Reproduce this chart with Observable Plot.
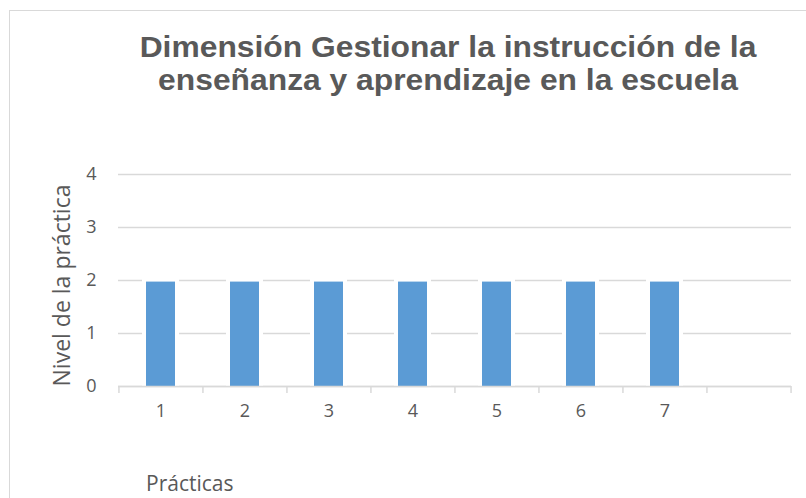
<!DOCTYPE html>
<html>
<head>
<meta charset="utf-8">
<script src="https://cdn.jsdelivr.net/npm/d3@7"></script>
<script src="https://cdn.jsdelivr.net/npm/@observablehq/plot@0.6"></script>
<style>
  html, body { margin: 0; padding: 0; background: #fff; }
  #wrap { position: relative; width: 806px; height: 498px; overflow: hidden; }
  #border { position: absolute; left: 9px; top: 10px; width: 900px; height: 600px; border: 1.5px solid #d9d9d9; box-sizing: border-box; }
  #title { position: absolute; left: 0; top: 30px; width: 896px; text-align: center; font-family: "Liberation Sans", Arial, sans-serif; font-weight: bold; font-size: 30px; line-height: 33px; color: #595959; transform: scaleX(1.06); transform-origin: 448px 0; }
  #xtitle { position: absolute; left: 146px; top: 469px; font-family: "Open Sans", sans-serif; font-size: 21px; color: #595959; }
  #plot { position: absolute; left: 0; top: 0; }
</style>
</head>
<body>
<div id="wrap">
  <div id="border"></div>
  <div id="title">Dimensión Gestionar la instrucción de la<br>enseñanza y aprendizaje en la escuela</div>
  <div id="plot"></div>
  <div id="xtitle">Prácticas</div>
</div>
<script>
const categories = ["1", "2", "3", "4", "5", "6", "7"];
const values = [1.97, 1.97, 1.97, 1.97, 1.97, 1.97, 1.97];
const yTicks = [0, 1, 2, 3, 4];
const yLabel = "Nivel de la práctica";

const data = categories.map((c, i) => ({cat: c, v: values[i]}));
const domainX = [...categories, ""];

const W = 806, H = 498, ML = 118, MR = 15, MT = 174, MB = 112;
const step = (W - ML - MR) / domainX.length;
const grey = "#d9d9d9";
const font = "'Open Sans', sans-serif";

const chart = Plot.plot({
  width: W,
  height: H,
  marginLeft: ML,
  marginRight: MR,
  marginTop: MT,
  marginBottom: MB,
  style: {fontFamily: font, fontSize: "18px", color: "#595959", background: "transparent", overflow: "visible"},
  x: {type: "band", domain: domainX, paddingInner: 0.65, paddingOuter: 0.325, align: 0.5, axis: null},
  y: {domain: [0, 4], axis: null},
  marks: [
    Plot.gridY(yTicks, {stroke: grey, strokeOpacity: 1, strokeWidth: 1.5}),
    Plot.barY(data, {x: "cat", y: "v", fill: "white", insetLeft: -4, insetRight: -4, insetTop: -3}),
    Plot.barY(data, {x: "cat", y: "v", fill: "#5b9bd5"}),
    Plot.ruleY([0], {stroke: grey, strokeWidth: 1.5}),
    Plot.axisX(domainX, {tickSize: 7, tickFormat: () => "", dx: -step / 2, stroke: grey, strokeWidth: 1.5, strokeOpacity: 1, label: null}),
    Plot.axisX([""], {tickSize: 7, tickFormat: () => "", dx: step / 2, stroke: grey, strokeWidth: 1.5, strokeOpacity: 1, label: null}),
    Plot.axisX(categories, {tickSize: 0, tickPadding: 18, fill: "#595959", fontSize: 18, label: null}),
    Plot.axisY(yTicks, {tickSize: 0, tickPadding: 22, fill: "#595959", fontSize: 18, tickFormat: "d", label: null}),
    Plot.text([yLabel], {frameAnchor: "left", dx: -56, dy: 5, rotate: -90, textAnchor: "middle", fill: "#595959", fontSize: 23})
  ]
});
document.getElementById("plot").appendChild(chart);
</script>
</body>
</html>
